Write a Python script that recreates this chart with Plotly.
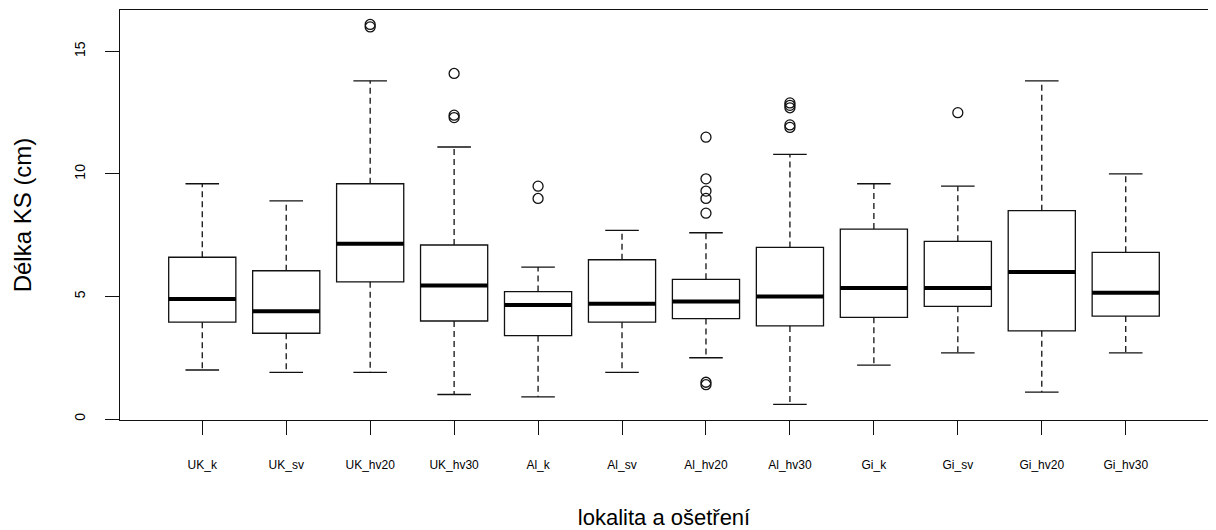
import plotly.graph_objects as go

# ---- data ----
categories = ["UK_k", "UK_sv", "UK_hv20", "UK_hv30", "Al_k", "Al_sv",
              "Al_hv20", "Al_hv30", "Gi_k", "Gi_sv", "Gi_hv20", "Gi_hv30"]
lower_whisker = [2.0, 1.9, 1.9, 1.0, 0.9, 1.9, 2.5, 0.6, 2.2, 2.7, 1.1, 2.7]
q1 =            [3.95, 3.5, 5.6, 4.0, 3.4, 3.95, 4.1, 3.8, 4.15, 4.6, 3.6, 4.2]
median =        [4.9, 4.4, 7.15, 5.45, 4.65, 4.7, 4.8, 5.0, 5.35, 5.35, 6.0, 5.15]
q3 =            [6.6, 6.05, 9.6, 7.1, 5.2, 6.5, 5.7, 7.0, 7.75, 7.25, 8.5, 6.8]
upper_whisker = [9.6, 8.9, 13.8, 11.1, 6.2, 7.7, 7.6, 10.8, 9.6, 9.5, 13.8, 10.0]

outlier_group = ["UK_hv20", "UK_hv20",
                 "UK_hv30", "UK_hv30", "UK_hv30",
                 "Al_k", "Al_k",
                 "Al_hv20", "Al_hv20", "Al_hv20", "Al_hv20", "Al_hv20", "Al_hv20", "Al_hv20",
                 "Al_hv30", "Al_hv30", "Al_hv30", "Al_hv30", "Al_hv30",
                 "Gi_sv"]
outlier_value = [16.0, 16.1,
                 12.3, 12.4, 14.1,
                 9.0, 9.5,
                 1.4, 1.5, 8.4, 9.0, 9.3, 9.8, 11.5,
                 11.9, 12.0, 12.7, 12.8, 12.9,
                 12.5]

y_ticks = [0, 5, 10, 15]
x_title = "lokalita a ošetření"
y_title = "Délka KS (cm)"

# ---- figure ----
pos = list(range(1, len(categories) + 1))
BOX_W = 0.8
STAPLE_W = 0.4
INK = "#111111"

fig = go.Figure()

# boxes (hinges + median outline)
for i, c in enumerate(categories):
    fig.add_trace(go.Box(
        x=[pos[i]], q1=[q1[i]], median=[median[i]], q3=[q3[i]],
        lowerfence=[q1[i]], upperfence=[q3[i]],
        width=BOX_W, whiskerwidth=0, boxpoints=False,
        fillcolor="white", line=dict(color=INK, width=1.3),
        name=c, showlegend=False, hoverinfo="skip"))

# dashed whiskers
wx, wy = [], []
for i in range(len(categories)):
    wx += [pos[i], pos[i], None, pos[i], pos[i], None]
    wy += [q3[i], upper_whisker[i], None, q1[i], lower_whisker[i], None]
fig.add_trace(go.Scatter(x=wx, y=wy, mode="lines",
                         line=dict(color=INK, width=1.3, dash="6px,4px"),
                         showlegend=False, hoverinfo="skip"))

# staples
sx, sy = [], []
for i in range(len(categories)):
    sx += [pos[i] - STAPLE_W / 2, pos[i] + STAPLE_W / 2, None,
           pos[i] - STAPLE_W / 2, pos[i] + STAPLE_W / 2, None]
    sy += [upper_whisker[i], upper_whisker[i], None,
           lower_whisker[i], lower_whisker[i], None]
fig.add_trace(go.Scatter(x=sx, y=sy, mode="lines",
                         line=dict(color=INK, width=1.3),
                         showlegend=False, hoverinfo="skip"))

# thick medians
mx, my = [], []
for i in range(len(categories)):
    mx += [pos[i] - BOX_W / 2, pos[i] + BOX_W / 2, None]
    my += [median[i], median[i], None]
fig.add_trace(go.Scatter(x=mx, y=my, mode="lines",
                         line=dict(color="black", width=4),
                         showlegend=False, hoverinfo="skip"))

# outliers
ox = [pos[categories.index(g)] for g in outlier_group]
fig.add_trace(go.Scatter(x=ox, y=outlier_value, mode="markers",
                         marker=dict(symbol="circle-open", size=10,
                                     color=INK, line=dict(width=1.3)),
                         showlegend=False, hoverinfo="skip"))

# the page body adds an 8px margin, so the figure is 8px smaller than the window
fig.update_layout(
    width=1208, height=522,
    margin=dict(l=112, r=8, t=2, b=110, autoexpand=False),
    plot_bgcolor="white", paper_bgcolor="white",
    font=dict(family="Liberation Sans, Arial, sans-serif", color="black"),
    showlegend=False,
)
fig.update_xaxes(
    range=[0.02, 12.98], tickvals=pos, ticktext=categories,
    ticks="outside", ticklen=14, tickwidth=1.3, tickcolor=INK,
    showline=True, mirror=True, linecolor=INK, linewidth=1.3,
    showgrid=False, zeroline=False, automargin=False,
    tickfont=dict(size=12, color="black"), ticklabelstandoff=19,
    title=dict(text=x_title, font=dict(size=22, color="black"), standoff=46),
)
fig.update_yaxes(
    range=[-0.04, 16.69], tickvals=y_ticks, ticktext=[str(v) for v in y_ticks],
    tickangle=-90,
    ticks="outside", ticklen=14, tickwidth=1.3, tickcolor=INK,
    showline=True, mirror=True, linecolor=INK, linewidth=1.3,
    showgrid=False, zeroline=False, automargin=False,
    tickfont=dict(size=14, color="black"), ticklabelstandoff=14,
    title=dict(text=y_title, font=dict(size=24, color="black"), standoff=33),
)

fig.write_html("out.html")
